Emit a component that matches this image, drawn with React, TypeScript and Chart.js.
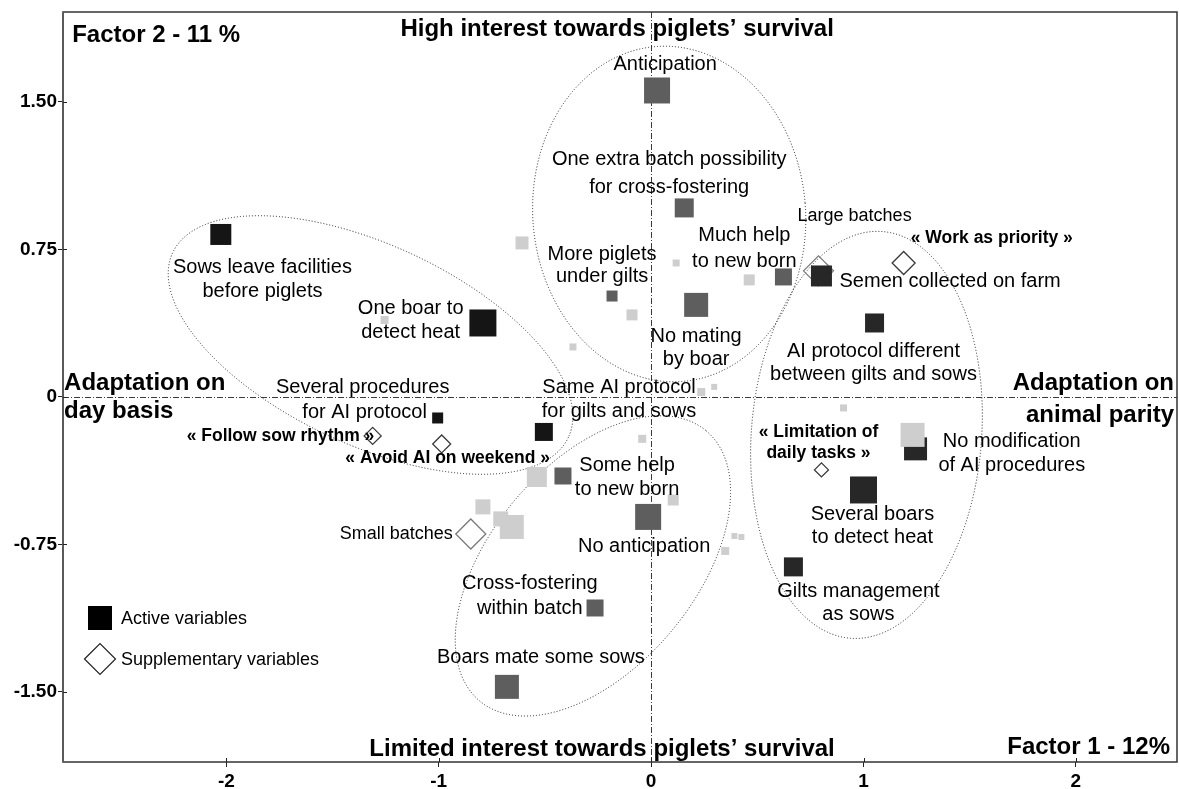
import React, { useEffect, useRef } from 'react';
import { Chart, registerables } from 'chart.js';

Chart.register(...registerables);

const FONT = '"Liberation Sans", Arial, Helvetica, sans-serif';

// ---- axes ----
const xTicks = [-2, -1, 0, 1, 2];
const yTicks = [-1.5, -0.75, 0, 0.75, 1.5];
const xRange = [-2.769, 2.476];
const yRange = [-1.856, 1.957];

// ---- active variables (squares), light grey modalities ----
const lightX = [-0.608, 0.118, 0.462, -0.09, -1.255, -0.368, 0.297, 0.236, 0.906, -0.042, 1.231, -0.538, 0.104, -0.792, -0.708, -0.656, 0.392, 0.425, 0.349];
const lightY = [0.783, 0.681, 0.595, 0.417, 0.391, 0.254, 0.051, 0.025, -0.056, -0.213, -0.193, -0.407, -0.524, -0.559, -0.62, -0.661, -0.707, -0.712, -0.783];
const lightSize = [13, 7, 11, 11, 8, 7, 6, 8, 7, 8, 24, 20, 11, 15, 15, 24, 6, 6, 8];

// dark grey modalities (factor 2)
const greyX = [0.028, 0.156, 0.623, -0.184, 0.212, -0.415, -0.014, -0.264, -0.679];
const greyY = [1.558, 0.961, 0.61, 0.513, 0.468, -0.402, -0.61, -1.073, -1.474];
const greySize = [26, 19, 17, 11, 24, 17, 26, 17, 24];

// black modalities (factor 1, negative side)
const blackLeftX = [-2.026, -0.792, -1.005, -0.505];
const blackLeftY = [0.826, 0.376, -0.107, -0.178];
const blackLeftSize = [21, 27, 11, 18];

// black modalities (factor 1, positive side)
const blackRightX = [0.802, 1.052, 1.245, 1.0, 0.67];
const blackRightY = [0.615, 0.376, -0.264, -0.473, -0.864];
const blackRightSize = [21, 19, 23, 27, 19];

// ---- supplementary variables (diamonds) ----
const suppX = [0.788, 1.189, -1.311, -0.986, 0.802, -0.849];
const suppY = [0.641, 0.681, -0.198, -0.239, -0.371, -0.697];
const suppSize = [30, 23, 17, 18, 14, 30];

// ---- point labels (anchor in data units) ----
const labelText = [
  'Anticipation', 'One extra batch possibility', 'for cross-fostering',
  'Sows leave facilities', 'before piglets', 'More piglets', 'under gilts',
  'Much help', 'to new born', 'One boar to', 'detect heat', 'No mating', 'by boar',
  'Semen collected on farm', 'AI protocol different', 'between gilts and sows',
  'Several procedures', 'for AI protocol', 'Same AI protocol', 'for gilts and sows',
  'Some help', 'to new born', 'No modification', 'of AI procedures',
  'Several boars', 'to detect heat', 'No anticipation', 'Cross-fostering', 'within batch',
  'Gilts management', 'as sows', 'Boars mate some sows',
  '« Work as priority »', '« Follow sow rhythm »', '« Avoid AI on weekend »',
  '« Limitation of', 'daily tasks »',
  'Large batches', 'Small batches',
];
const labelX = [0.066, 0.085, 0.085, -1.83, -1.83, -0.231, -0.231, 0.439, 0.439, -1.132, -1.132, 0.212, 0.212, 0.887, 1.047, 1.047, -1.358, -1.349, -0.151, -0.151, -0.113, -0.113, 1.698, 1.698, 1.042, 1.042, -0.033, -0.571, -0.571, 0.976, 0.976, -0.519, 1.604, -1.745, -0.958, 0.788, 0.788, 0.958, -0.934];
const labelY = [1.688, 1.205, 1.063, 0.656, 0.534, 0.722, 0.61, 0.819, 0.691, 0.452, 0.33, 0.305, 0.188, 0.585, 0.229, 0.112, 0.046, -0.081, 0.046, -0.076, -0.346, -0.473, -0.229, -0.351, -0.6, -0.717, -0.758, -0.946, -1.073, -0.991, -1.108, -1.327, 0.808, -0.198, -0.31, -0.178, -0.285, 0.92, -0.697];

// ---- axis titles inside the plot ----
const titleText = ['Factor 2 - 11 %', 'High interest towards piglets’ survival', 'Limited interest towards piglets’ survival', 'Factor 1 - 12%', 'Adaptation on', 'day basis', 'Adaptation on', 'animal parity'];
const titleX = [-2.726, -0.16, -0.231, 2.443, -2.764, -2.764, 2.462, 2.462];
const titleY = [1.84, 1.871, -1.79, -1.784, 0.071, -0.071, 0.071, -0.092];

// ---- group ellipses (centre, radii in data units, tilt in degrees) ----
const ellipseX = [0.085, -1.321, -0.274, 1.014];
const ellipseY = [0.93, 0.264, -0.859, -0.193];
const ellipseRX = [0.642, 1.028, 0.83, 0.542];
const ellipseRY = [0.854, 0.508, 0.519, 1.037];
const ellipseTilt = [-4.6, 25, -50, 4.5];

const legendItems = ['Active variables', 'Supplementary variables'];

// ---- styles ----
const COL = {
  light: '#cecece',
  grey: '#5e5e5e',
  blackL: '#151515',
  blackR: '#272727',
};
const suppEdge = ['#7a7a7a', '#3a3a3a', '#3a3a3a', '#3a3a3a', '#3a3a3a', '#7a7a7a'];
const titleAlign: CanvasTextAlign[] = ['left', 'center', 'center', 'right', 'left', 'left', 'right', 'right'];

function labelStyle(i: number): { font: string; align: CanvasTextAlign } {
  const t = labelText[i];
  if (t.startsWith('«') || t.endsWith('»')) return { font: `bold 17.5px ${FONT}`, align: 'center' };
  if (t === 'Large batches') return { font: `18px ${FONT}`, align: 'center' };
  if (t === 'Small batches') return { font: `18px ${FONT}`, align: 'right' };
  if (t === 'Semen collected on farm') return { font: `20px ${FONT}`, align: 'left' };
  return { font: `20px ${FONT}`, align: 'center' };
}

const pts = (xs: number[], ys: number[]) => xs.map((v, i) => ({ x: v, y: ys[i] }));
const sqR = (s: number[]) => s.map((v) => v / Math.SQRT2);

const overlay = {
  id: 'overlay',
  beforeDatasetsDraw(chart: any) {
    const { ctx, chartArea: a, scales } = chart;
    const xs = scales.x;
    const ys = scales.y;
    ctx.save();
    // zero lines
    ctx.strokeStyle = '#3a3a3a';
    ctx.lineWidth = 1;
    ctx.setLineDash([6, 2, 1, 2]);
    const x0 = Math.round(xs.getPixelForValue(0)) + 0.5;
    const y0 = Math.round(ys.getPixelForValue(0)) + 0.5;
    ctx.beginPath();
    ctx.moveTo(x0, a.top);
    ctx.lineTo(x0, a.bottom);
    ctx.moveTo(a.left, y0);
    ctx.lineTo(a.right, y0);
    ctx.stroke();
    // ellipses
    ctx.setLineDash([1, 2]);
    ctx.strokeStyle = '#222';
    for (let i = 0; i < ellipseX.length; i++) {
      const cx = xs.getPixelForValue(ellipseX[i]);
      const cy = ys.getPixelForValue(ellipseY[i]);
      const rx = Math.abs(xs.getPixelForValue(ellipseX[i] + ellipseRX[i]) - cx);
      const ry = Math.abs(ys.getPixelForValue(ellipseY[i] + ellipseRY[i]) - cy);
      ctx.beginPath();
      ctx.ellipse(cx, cy, rx, ry, (ellipseTilt[i] * Math.PI) / 180, 0, Math.PI * 2);
      ctx.stroke();
    }
    ctx.restore();
  },
  afterDatasetsDraw(chart: any) {
    const { ctx, chartArea: a, scales } = chart;
    const xs = scales.x;
    const ys = scales.y;
    ctx.save();
    ctx.fillStyle = '#000';
    ctx.textBaseline = 'middle';
    for (let i = 0; i < labelText.length; i++) {
      const st = labelStyle(i);
      ctx.font = st.font;
      ctx.textAlign = st.align;
      ctx.fillText(labelText[i], xs.getPixelForValue(labelX[i]), ys.getPixelForValue(labelY[i]));
    }
    ctx.font = `bold 24px ${FONT}`;
    for (let i = 0; i < titleText.length; i++) {
      ctx.textAlign = titleAlign[i];
      ctx.fillText(titleText[i], xs.getPixelForValue(titleX[i]), ys.getPixelForValue(titleY[i]));
    }
    // legend
    const lx = a.left + 37;
    const ly1 = a.top + 606;
    const ly2 = a.top + 647;
    ctx.fillStyle = '#000';
    ctx.fillRect(lx - 12, ly1 - 12, 24, 24);
    ctx.beginPath();
    ctx.moveTo(lx - 15.5, ly2);
    ctx.lineTo(lx, ly2 - 15.5);
    ctx.lineTo(lx + 15.5, ly2);
    ctx.lineTo(lx, ly2 + 15.5);
    ctx.closePath();
    ctx.fillStyle = '#fff';
    ctx.fill();
    ctx.strokeStyle = '#222';
    ctx.lineWidth = 1.2;
    ctx.stroke();
    ctx.fillStyle = '#000';
    ctx.font = `18px ${FONT}`;
    ctx.textAlign = 'left';
    ctx.fillText(legendItems[0], lx + 21, ly1 + 1);
    ctx.fillText(legendItems[1], lx + 21, ly2 + 1);
    // frame
    ctx.setLineDash([]);
    ctx.strokeStyle = '#333';
    ctx.lineWidth = 1.5;
    ctx.strokeRect(a.left, a.top, a.right - a.left, a.bottom - a.top);
    ctx.strokeStyle = '#5a5a5a';
    ctx.lineWidth = 2;
    ctx.beginPath();
    ctx.moveTo(a.left, a.top);
    ctx.lineTo(a.left, a.bottom);
    ctx.stroke();
    // tick marks crossing the frame
    ctx.strokeStyle = '#222';
    ctx.lineWidth = 1;
    ctx.beginPath();
    for (const v of xTicks) {
      const p = Math.round(xs.getPixelForValue(v)) + 0.5;
      ctx.moveTo(p, a.bottom - 4);
      ctx.lineTo(p, a.bottom);
    }
    for (const v of yTicks) {
      const p = Math.round(ys.getPixelForValue(v)) + 0.5;
      ctx.moveTo(a.left, p);
      ctx.lineTo(a.left + 4, p);
    }
    ctx.stroke();
    ctx.restore();
  },
};

export default function App() {
  const ref = useRef<HTMLCanvasElement>(null);
  useEffect(() => {
    const canvas = ref.current;
    if (!canvas) return;
    const tickFont = { family: FONT, size: 19, weight: 'bold' as const };
    const chart = new Chart(canvas, {
      type: 'scatter',
      data: {
        datasets: [
          {
            label: 'light',
            data: pts(lightX, lightY),
            pointStyle: 'rect',
            pointRadius: sqR(lightSize),
            pointBackgroundColor: COL.light,
            pointBorderWidth: 0,
          },
          {
            label: 'grey',
            data: pts(greyX, greyY),
            pointStyle: 'rect',
            pointRadius: sqR(greySize),
            pointBackgroundColor: COL.grey,
            pointBorderWidth: 0,
          },
          {
            label: 'blackLeft',
            data: pts(blackLeftX, blackLeftY),
            pointStyle: 'rect',
            pointRadius: sqR(blackLeftSize),
            pointBackgroundColor: COL.blackL,
            pointBorderWidth: 0,
          },
          {
            label: 'blackRight',
            data: pts(blackRightX, blackRightY),
            pointStyle: 'rect',
            pointRadius: sqR(blackRightSize),
            pointBackgroundColor: COL.blackR,
            pointBorderWidth: 0,
          },
          {
            label: 'supplementary',
            data: pts(suppX, suppY),
            pointStyle: 'rectRot',
            pointRadius: suppSize.map((v) => v / 2),
            pointBackgroundColor: 'rgba(255,255,255,0)',
            pointBorderColor: suppEdge,
            pointBorderWidth: 1.3,
          },
        ] as any,
      },
      options: {
        animation: false,
        responsive: false,
        events: [],
        layout: { autoPadding: false, padding: { top: 12, right: 3, left: 0, bottom: 0 } },
        plugins: { legend: { display: false }, tooltip: { enabled: false } },
        scales: {
          x: {
            type: 'linear',
            min: xRange[0],
            max: xRange[1],
            afterBuildTicks: (s: any) => {
              s.ticks = xTicks.map((v) => ({ value: v }));
            },
            afterFit: (s: any) => {
              s.height = 27;
              s.paddingLeft = 0;
              s.paddingRight = 0;
            },
            ticks: {
              font: tickFont,
              color: '#000',
              padding: 3,
              maxRotation: 0,
              autoSkip: false,
              callback: (v: any) => String(v),
            },
            grid: { drawOnChartArea: false, tickLength: 5, color: '#222', lineWidth: 1 },
            border: { display: false },
          },
          y: {
            type: 'linear',
            min: yRange[0],
            max: yRange[1],
            afterBuildTicks: (s: any) => {
              s.ticks = yTicks.map((v) => ({ value: v }));
            },
            afterFit: (s: any) => {
              s.width = 63;
              s.paddingTop = 0;
              s.paddingBottom = 0;
            },
            ticks: {
              font: tickFont,
              color: '#000',
              padding: 1,
              autoSkip: false,
              callback: (v: any) => (Number(v) === 0 ? '0' : Number(v).toFixed(2)),
            },
            grid: { drawOnChartArea: false, tickLength: 5, color: '#222', lineWidth: 1 },
            border: { display: false },
          },
        },
      } as any,
      plugins: [overlay],
    });
    return () => chart.destroy();
  }, []);

  return (
    <div style={{ position: 'absolute', left: 0, top: 0, width: 1180, height: 789, background: '#fff' }}>
      <canvas ref={ref} width={1180} height={789} style={{ display: 'block', width: 1180, height: 789 }} />
    </div>
  );
}
